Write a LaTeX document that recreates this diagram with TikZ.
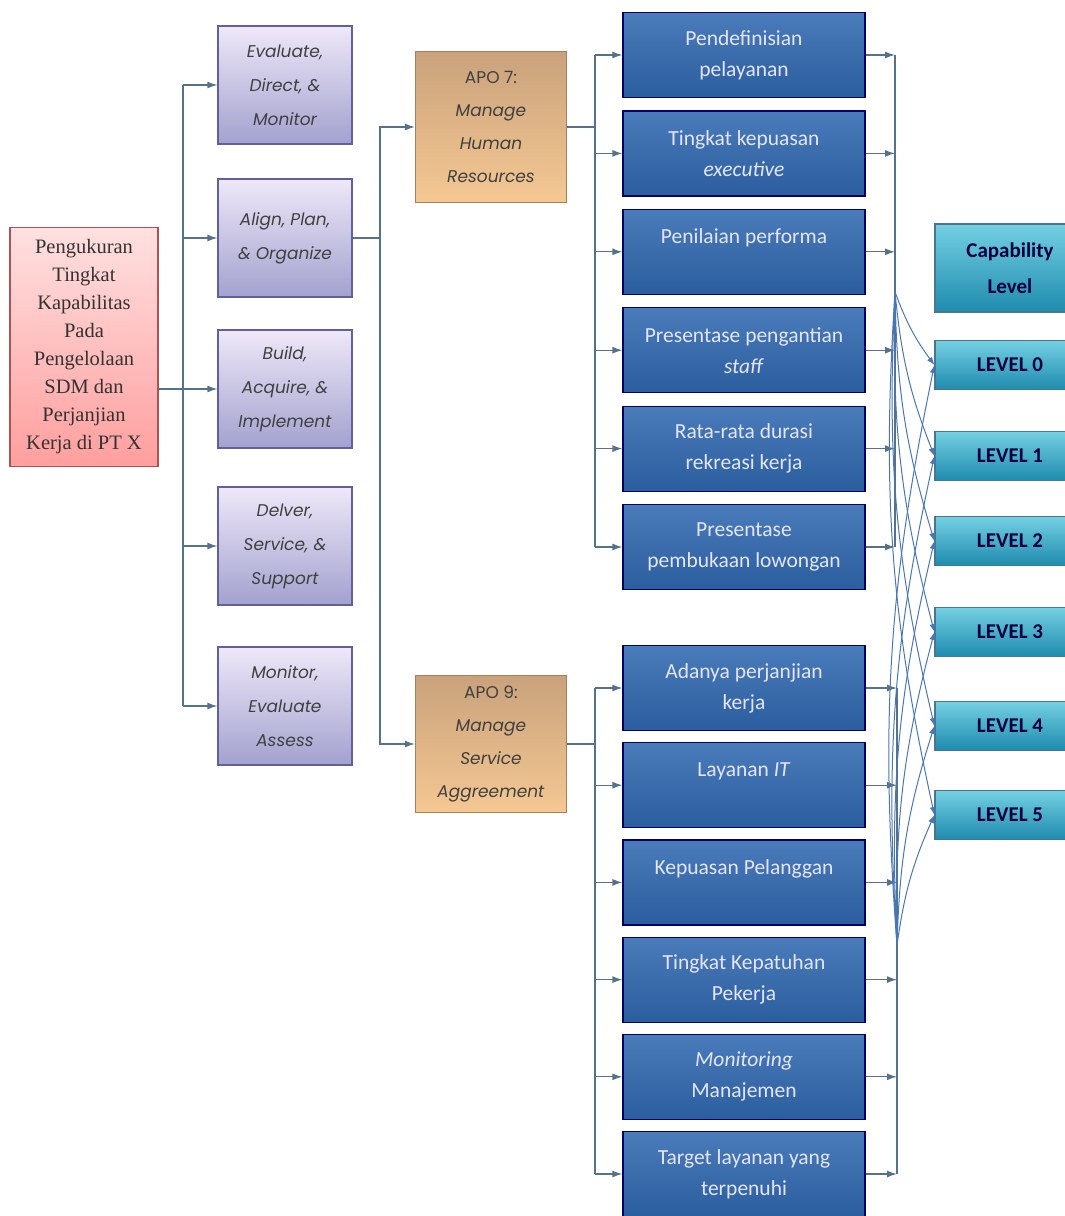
\documentclass[tikz,border=0pt]{standalone}
\usepackage{fontspec}
\usetikzlibrary{arrows.meta}
\setmainfont{Liberation Serif}
\newfontfamily\gothic{Poppins}
\newfontfamily\calib{Carlito}

\definecolor{wire}{HTML}{55728A}
\definecolor{fanblue}{HTML}{4A76B6}
\definecolor{lavtop}{HTML}{EEE8F8}
\definecolor{lavbot}{HTML}{A3A1CF}
\definecolor{tantop}{HTML}{C9A27C}
\definecolor{tanbot}{HTML}{F5C893}
\definecolor{bluetop}{HTML}{4A7BBB}
\definecolor{bluebot}{HTML}{2B5E9E}
\definecolor{tealtop}{HTML}{74D0E2}
\definecolor{tealbot}{HTML}{1E8BAE}

\begin{document}
\begin{tikzpicture}[x=1pt,y=-1pt,>={Latex[length=10pt,width=7pt]},
    box/.style={draw, rectangle, align=center, inner sep=2pt, line width=1.2pt},
    rootbox/.style={box, draw=red!35!gray, top color=red!12, bottom color=red!38,
        minimum width=148pt, minimum height=239pt, text=black!80,
        font=\fontsize{20.5}{28}\selectfont},
    dombox/.style={box, draw=blue!25!gray, top color=lavtop, bottom color=lavbot,
        minimum width=134pt, minimum height=118pt, text=black!75,
        font=\gothic\itshape\fontsize{17}{34}\selectfont},
    apo/.style={box, draw=brown!60!gray, top color=tantop, bottom color=tanbot,
        minimum width=151pt, text=black!75, font=\gothic\fontsize{17}{33}\selectfont},
    metric/.style={box, draw=blue!40!black, top color=bluetop, bottom color=bluebot,
        minimum width=242pt, minimum height=85pt, text=white!90!blue,
        font=\calib\fontsize{21.5}{31}\selectfont},
    level/.style={box, draw=cyan!50!black, top color=tealtop, bottom color=tealbot,
        minimum width=150pt, minimum height=49pt, text=blue!25!black,
        font=\calib\bfseries\fontsize{21}{36}\selectfont},
    wireline/.style={draw=wire, line width=1.3pt},
    arr/.style={wireline, ->},
    fan/.style={draw=fanblue, line width=1pt, -{Latex[length=8pt,width=6pt]}}
]
\useasboundingbox (0,0) rectangle (1065,1216);

% sasaran pengukuran
\node[rootbox] (root) at (84,347) {Pengukuran\\Tingkat\\Kapabilitas\\Pada\\Pengelolaan\\SDM dan\\Perjanjian\\Kerja di PT X};

% domain COBIT
\node[dombox] (edm) at (285,85) {Evaluate,\\Direct, \&\\Monitor};
\node[dombox] (apoD) at (285,238) {Align, Plan,\\\& Organize};
\node[dombox] (bai) at (285,389) {Build,\\Acquire, \&\\Implement};
\node[dombox] (dss) at (285,546) {Delver,\\Service, \&\\Support};
\node[dombox] (mea) at (285,706) {Monitor,\\Evaluate\\Assess};

% proses APO
\node[apo, minimum height=151pt] (apo7) at (491,127) {APO 7:\\\textit{Manage}\\\textit{Human}\\\textit{Resources}};
\node[apo, minimum height=137pt] (apo9) at (491,744) {APO 9:\\\textit{Manage}\\\textit{Service}\\\textit{Aggreement}};

% metrik
\foreach \t [count=\i from 1] in {
    {Pendefinisian\\pelayanan},
    {Tingkat kepuasan\\\textit{executive}},
    {Penilaian performa\\~},
    {Presentase pengantian\\\textit{staff}},
    {Rata-rata durasi\\rekreasi kerja},
    {Presentase\\pembukaan lowongan}}
    \node[metric] (m\i) at (744,{55+98.4*(\i-1)}) {\t};
\foreach \t [count=\i from 7] in {
    {Adanya perjanjian\\kerja},
    {Layanan \textit{IT}\\~},
    {Kepuasan Pelanggan\\~},
    {Tingkat Kepatuhan\\Pekerja},
    {\textit{Monitoring}\\Manajemen},
    {Target layanan yang\\terpenuhi}}
    \node[metric] (m\i) at (744,{688+97.2*(\i-7)}) {\t};

% level kapabilitas
\node[level, minimum height=88pt] (cap) at (1010,268) {Capability\\Level};
\foreach \c [count=\i from 0] in {365,456,541,632,726,815}
    \node[level] (lv\i) at (1010,\c) {LEVEL \i};

% sambungan kiri
\coordinate (j1) at (183,389);
\draw[arr] (root.east |- bai.west) -- (bai.west);
\draw[wireline] (j1 |- edm.west) -- (j1 |- mea.west);
\foreach \n in {edm,apoD,dss,mea}
    \draw[arr] (j1 |- \n.west) -- (\n.west);

\coordinate (j2) at (380,238);
\draw[wireline] (apoD.east) -- (j2);
\draw[arr] (j2) |- (apo7.west);
\draw[arr] (j2) |- (apo9.west);

% sambungan ke metrik
\coordinate (j3) at (595,127);
\coordinate (j4) at (595,744);
\draw[wireline] (apo7.east) -- (j3);
\draw[wireline] (apo9.east) -- (j4);
\draw[wireline] (j3 |- m1.west) -- (j3 |- m6.west);
\draw[wireline] (j4 |- m7.west) -- (j4 |- m12.west);
\foreach \i in {1,...,12}
    \draw[arr] (j3 |- m\i.west) -- (m\i.west);

% sambungan ke level
\coordinate (f1) at (895,292);
\coordinate (f2) at (897,945);
\draw[wireline] (f1 |- m1.east) -- (f1 |- m6.east);
\draw[wireline] (f2 |- m7.east) -- (f2 |- m12.east);
\foreach \i in {1,...,6}
    \draw[arr] (m\i.east) -- (m\i.east -| f1);
\foreach \i in {7,...,12}
    \draw[arr] (m\i.east) -- (m\i.east -| f2);
\foreach \i in {0,...,5} {
    \draw[fan] (f1) to[bend right=8] (lv\i.west);
    \draw[fan] (f2) to[bend left=8] (lv\i.west);
}
\end{tikzpicture}
\end{document}
